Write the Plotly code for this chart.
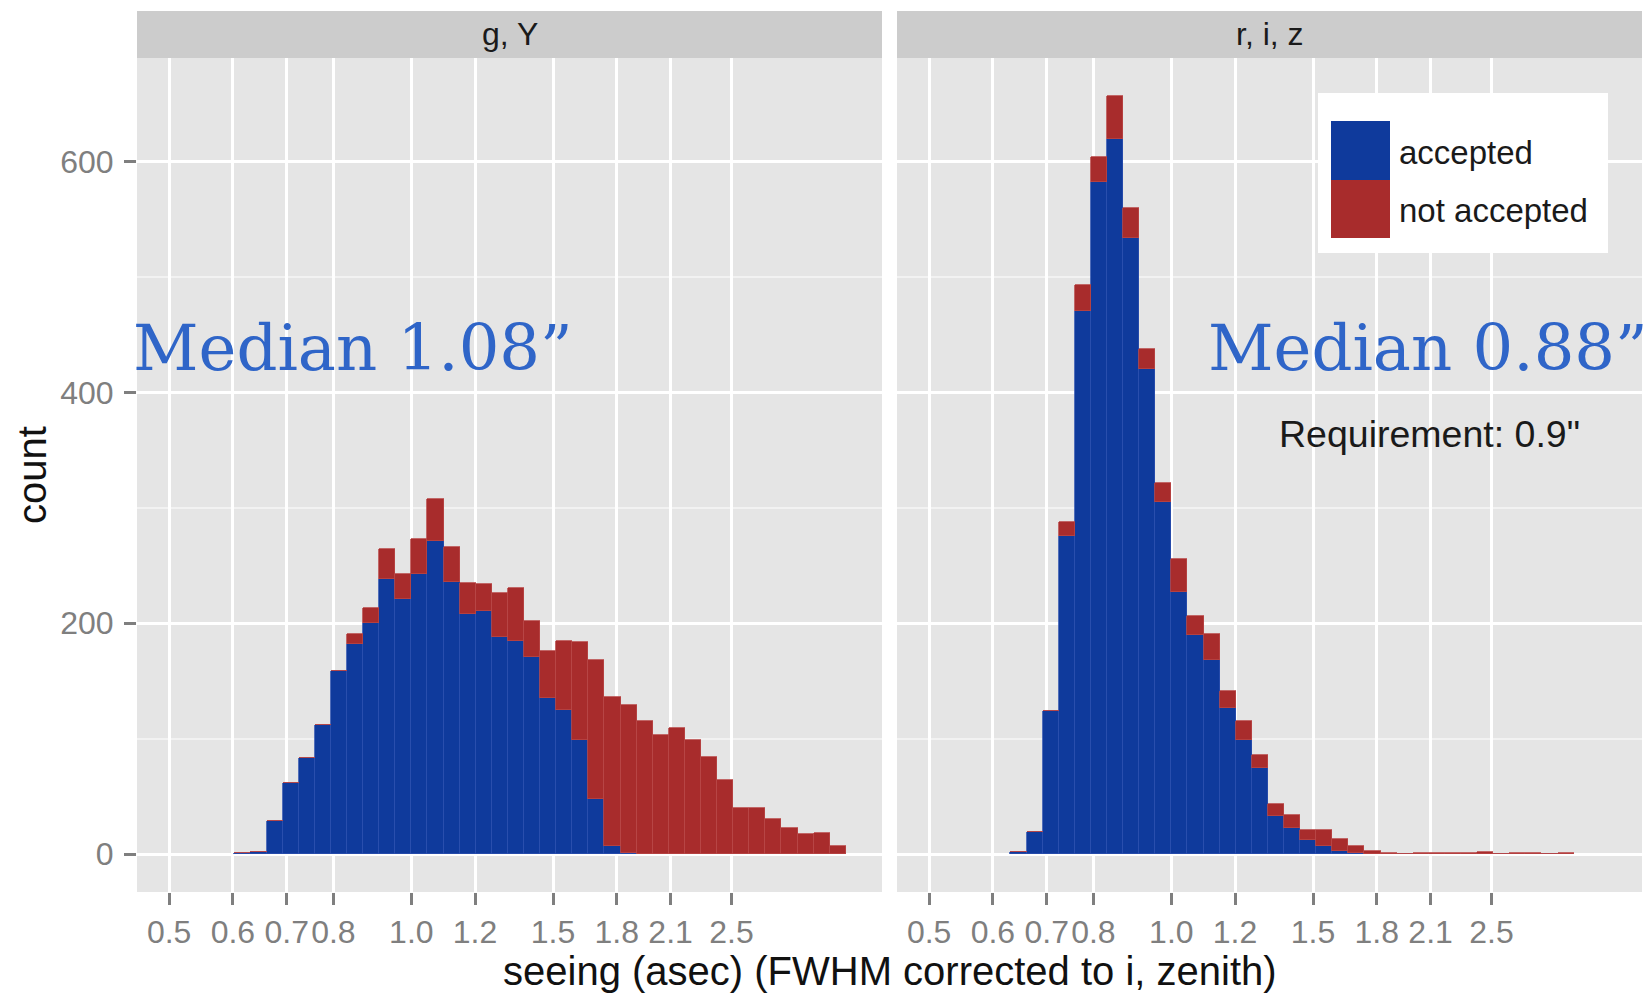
import math
import plotly.graph_objects as go

# ---------------- data ----------------
FACETS = ["g, Y", "r, i, z"]
SERIES = ["accepted", "not accepted"]
BIN_WIDTH_LOG10 = 0.02

# left edges of the histogram bins, log10(seeing / arcsec)
LEFT_BIN_LOG10 = [-0.22, -0.20, -0.18, -0.16, -0.14, -0.12, -0.10, -0.08, -0.06, -0.04,
                  -0.02, 0.00, 0.02, 0.04, 0.06, 0.08, 0.10, 0.12, 0.14, 0.16,
                  0.18, 0.20, 0.22, 0.24, 0.26, 0.28, 0.30, 0.32, 0.34, 0.36,
                  0.38, 0.40, 0.42, 0.44, 0.46, 0.48, 0.50, 0.52]
LEFT_ACCEPTED = [1, 2, 29, 62, 83, 112, 159, 182, 200, 238,
                 221, 243, 271, 236, 208, 211, 188, 185, 171, 135,
                 125, 99, 48, 7, 1, 0, 0, 0, 0, 0,
                 0, 0, 0, 0, 0, 0, 0, 0]
LEFT_NOT_ACCEPTED = [0, 0, 0, 0, 0, 0, 0, 9, 13, 26,
                     22, 30, 37, 30, 27, 23, 38, 46, 31, 41,
                     60, 85, 120, 129, 128, 115, 103, 109, 99, 84,
                     64, 40, 40, 30, 23, 17, 18, 7]

RIGHT_BIN_LOG10 = [-0.20, -0.18, -0.16, -0.14, -0.12, -0.10, -0.08, -0.06, -0.04, -0.02,
                   0.00, 0.02, 0.04, 0.06, 0.08, 0.10, 0.12, 0.14, 0.16, 0.18,
                   0.20, 0.22, 0.24, 0.26, 0.28, 0.30, 0.32, 0.34, 0.36, 0.38,
                   0.40, 0.42, 0.44, 0.46, 0.48]
RIGHT_ACCEPTED = [2, 19, 124, 276, 471, 582, 620, 534, 420, 305,
                  227, 190, 168, 127, 99, 75, 33, 23, 12, 7,
                  3, 1, 0, 0, 0, 0, 0, 0, 0, 0,
                  0, 0, 0, 0, 0]
RIGHT_NOT_ACCEPTED = [0, 0, 0, 12, 22, 22, 37, 26, 18, 17,
                      29, 16, 23, 14, 16, 11, 10, 11, 9, 14,
                      10, 6, 3, 1, 0, 1, 1, 1, 1, 2,
                      0, 1, 1, 0, 1]

X_TICK_VALUES = [0.5, 0.6, 0.7, 0.8, 1.0, 1.2, 1.5, 1.8, 2.1, 2.5]
X_TICK_LABELS = ["0.5", "0.6", "0.7", "0.8", "1.0", "1.2", "1.5", "1.8", "2.1", "2.5"]
Y_TICK_VALUES = [0, 200, 400, 600]
Y_MINOR_VALUES = [100, 300, 500]
MEDIAN_LABELS = ["Median 1.08\u201d", "Median 0.88\u201d"]
REQUIREMENT_LABEL = "Requirement: 0.9\""
X_TITLE = "seeing (asec) (FWHM corrected to i, zenith)"
Y_TITLE = "count"

# ---------------- style ----------------
W, H = 1650, 993
BLUE = "#0f3a9c"
RED = "#a82c2c"
PANEL_BG = "#E5E5E5"
STRIP_BG = "#CCCCCC"
GREY50 = "#7F7F7F"
SANS = "Liberation Sans, Arial, Helvetica, sans-serif"
SERIF = "DejaVu Serif, serif"


def px(x):
    return x / W


def py(y):
    return 1 - y / H


PANELS_X = [(137, 882), (897, 1642)]
PANEL_TOP, PANEL_BOTTOM = 58, 892
STRIP_TOP = 11

fig = go.Figure()

panel_data = [
    (LEFT_BIN_LOG10, LEFT_ACCEPTED, LEFT_NOT_ACCEPTED),
    (RIGHT_BIN_LOG10, RIGHT_ACCEPTED, RIGHT_NOT_ACCEPTED),
]
for i, (edges, acc, nacc) in enumerate(panel_data):
    xa = "x" if i == 0 else "x2"
    ya = "y" if i == 0 else "y2"
    centers = [e + BIN_WIDTH_LOG10 / 2 for e in edges]
    fig.add_trace(go.Bar(x=centers, y=acc, width=BIN_WIDTH_LOG10, name=SERIES[0],
                         marker=dict(color=BLUE, line=dict(color="#2a4fae", width=0.8)),
                         xaxis=xa, yaxis=ya, showlegend=False))
    fig.add_trace(go.Bar(x=centers, y=nacc, width=BIN_WIDTH_LOG10, name=SERIES[1],
                         marker=dict(color=RED, line=dict(color="#b84646", width=0.8)),
                         xaxis=xa, yaxis=ya, showlegend=False))

ymax = max(max(a + b for a, b in zip(LEFT_ACCEPTED, LEFT_NOT_ACCEPTED)),
           max(a + b for a, b in zip(RIGHT_ACCEPTED, RIGHT_NOT_ACCEPTED)))
yrange = [-0.05 * ymax, 1.05 * ymax]
xrange = [-0.341, 0.585]

tickvals = [math.log10(v) for v in X_TICK_VALUES]

xcommon = dict(range=xrange, tickmode="array", tickvals=tickvals, ticktext=X_TICK_LABELS,
               ticks="outside", ticklen=12, tickwidth=2.5, tickcolor=GREY50,
               tickfont=dict(family=SANS, size=32, color=GREY50), tickangle=0,
               showgrid=True, gridcolor="white", gridwidth=3, zeroline=False,
               showline=False, fixedrange=True)
ycommon = dict(range=yrange, tickmode="array", tickvals=Y_TICK_VALUES,
               showgrid=True, gridcolor="white", gridwidth=3, zeroline=False,
               showline=False,
               minor=dict(tickvals=Y_MINOR_VALUES, showgrid=True, gridcolor="#F2F2F2",
                          gridwidth=1.5, ticks=""),
               domain=[py(PANEL_BOTTOM), py(PANEL_TOP)])

fig.update_layout(
    width=W, height=H,
    margin=dict(l=0, r=0, t=0, b=0),
    paper_bgcolor="white", plot_bgcolor=PANEL_BG,
    barmode="stack", bargap=0,
    showlegend=False,
    xaxis=dict(domain=[px(PANELS_X[0][0]), px(PANELS_X[0][1])], anchor="y", **xcommon),
    xaxis2=dict(domain=[px(PANELS_X[1][0]), px(PANELS_X[1][1])], anchor="y2", **xcommon),
    yaxis=dict(anchor="x", ticks="outside", ticklen=12, tickwidth=2.5, tickcolor=GREY50,
               tickfont=dict(family=SANS, size=32, color=GREY50),
               ticklabelstandoff=4, **ycommon),
    yaxis2=dict(anchor="x2", ticks="", showticklabels=False, **ycommon),
)

shapes = []
annotations = []
# facet strips
for (x0, x1), lab in zip(PANELS_X, FACETS):
    shapes.append(dict(type="rect", xref="paper", yref="paper",
                       x0=px(x0), x1=px(x1), y0=py(PANEL_TOP), y1=py(STRIP_TOP),
                       fillcolor=STRIP_BG, line=dict(width=0), layer="below"))
    annotations.append(dict(text=lab, xref="paper", yref="paper",
                            x=px((x0 + x1) / 2), y=py((STRIP_TOP + PANEL_TOP) / 2),
                            xanchor="center", yanchor="middle", showarrow=False,
                            font=dict(family=SANS, size=32, color="#1a1a1a")))

# legend (inside right panel)
shapes.append(dict(type="rect", xref="paper", yref="paper",
                   x0=px(1318), x1=px(1608), y0=py(253), y1=py(93),
                   fillcolor="white", line=dict(width=0)))
shapes.append(dict(type="rect", xref="paper", yref="paper",
                   x0=px(1331), x1=px(1390), y0=py(180), y1=py(121),
                   fillcolor=BLUE, line=dict(width=0)))
shapes.append(dict(type="rect", xref="paper", yref="paper",
                   x0=px(1331), x1=px(1390), y0=py(238), y1=py(180),
                   fillcolor=RED, line=dict(width=0)))
for lab, yc in zip(SERIES, [152, 210]):
    annotations.append(dict(text=lab, xref="paper", yref="paper", x=px(1397), y=py(yc),
                            xanchor="left", yanchor="middle", showarrow=False,
                            font=dict(family=SANS, size=33, color="#1a1a1a")))

# medians
for lab, xc in zip(MEDIAN_LABELS, [352.5, 1427.5]):
    annotations.append(dict(text=lab, xref="paper", yref="paper", x=px(xc), y=py(348),
                            xanchor="center", yanchor="middle", showarrow=False,
                            font=dict(family=SERIF, size=64, color="#2f65c8")))

annotations.append(dict(text=REQUIREMENT_LABEL, xref="paper", yref="paper",
                        x=px(1429.5), y=py(434), xanchor="center", yanchor="middle",
                        showarrow=False, font=dict(family=SANS, size=37.5, color="#1a1a1a")))

# axis titles
annotations.append(dict(text=X_TITLE, xref="paper", yref="paper", x=px(889.5), y=py(971),
                        xanchor="center", yanchor="middle", showarrow=False,
                        font=dict(family=SANS, size=40, color="#111111")))
annotations.append(dict(text=Y_TITLE, xref="paper", yref="paper", x=px(32), y=py(475),
                        xanchor="center", yanchor="middle", showarrow=False, textangle=-90,
                        font=dict(family=SANS, size=40, color="#111111")))

fig.update_layout(shapes=shapes, annotations=annotations)
fig.write_html("out.html")
